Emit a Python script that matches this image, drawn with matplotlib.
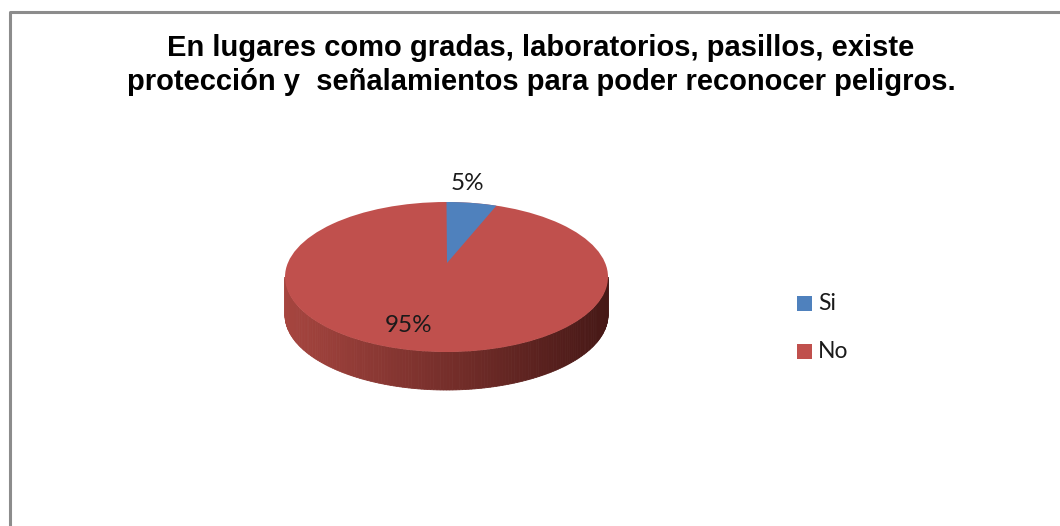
import numpy as np
import matplotlib
matplotlib.use('Agg')
import matplotlib.pyplot as plt
from matplotlib.patches import Polygon, Rectangle, Ellipse
from matplotlib import colors

categorias = ['Si', 'No']
valores = [5, 95]
etiquetas = ['5%', '95%']
titulo = 'En lugares como gradas, laboratorios, pasillos, existe\nprotección y  señalamientos para poder reconocer peligros.'

col_top = ['#4F81BD', '#C0504D']

W, H = 1060, 526
fig = plt.figure(figsize=(W / 100, H / 100), dpi=100)
ax = fig.add_axes([0, 0, 1, 1])
ax.set_xlim(0, W)
ax.set_ylim(H, 0)
ax.axis('off')

# marco del grafico
ax.plot([9.5, 9.5, W + 5], [H + 5, 11.5, 11.5], color='#8c8c8c', lw=2.2, solid_capstyle='butt')

# geometria del pastel (pixeles)
cx, cy = 446.5, 277
rx, ry = 161.5, 75
prof = 38
apex = (447, 263)

def punto(theta):
    # theta en grados desde las 12, sentido horario
    t = np.radians(theta)
    return cx + rx * np.sin(t), cy - ry * np.cos(t)

# lado (frente) con degradado
c_izq = np.array(colors.to_rgb('#A6453F'))
c_der = np.array(colors.to_rgb('#461816'))
n = 160
angs = np.linspace(90, 270, n + 1)
for i in range(n):
    a0, a1 = angs[i], angs[i + 1]
    x0, y0 = punto(a0)
    x1, y1 = punto(a1)
    xm = (x0 + x1) / 2
    f = (xm - (cx - rx)) / (2 * rx)
    c = c_izq * (1 - f) + c_der * f
    ax.add_patch(Polygon([(x0, y0), (x1, y1), (x1, y1 + prof), (x0, y0 + prof)],
                         closed=True, facecolor=c, edgecolor=c, lw=0.6))

# cara superior
ax.add_patch(Ellipse((cx, cy), 2 * rx, 2 * ry, facecolor=col_top[1], edgecolor='none'))

# porcion azul (Si)
tot = sum(valores)
ini = 0
fin = 360 * valores[0] / tot
arco = [punto(a) for a in np.linspace(ini, fin, 20)]
ax.add_patch(Polygon([apex] + arco, closed=True, facecolor=col_top[0], edgecolor='none'))

# etiquetas de datos
ax.text(467, 183, etiquetas[0], ha='center', va='center', fontsize=17.5, family='Lato', color='#1a1a1a')
ax.text(409, 326, etiquetas[1], ha='center', va='center', fontsize=17.5, family='Lato', color='#1a1a1a')

# titulo
ax.text(541, 65, titulo, ha='center', va='center', fontsize=21, fontweight='bold',
        family='Liberation Sans', linespacing=1.25, color='black')

# leyenda
leg_y = [303, 351]
for i, cat in enumerate(categorias):
    ax.add_patch(Rectangle((796.5, leg_y[i] - 7.5), 15, 15, facecolor=col_top[i], edgecolor='none'))
    ax.text(818, leg_y[i], cat, ha='left', va='center', fontsize=16.5, family='Lato', color='#1a1a1a')

fig.savefig('out.png', dpi=100)
